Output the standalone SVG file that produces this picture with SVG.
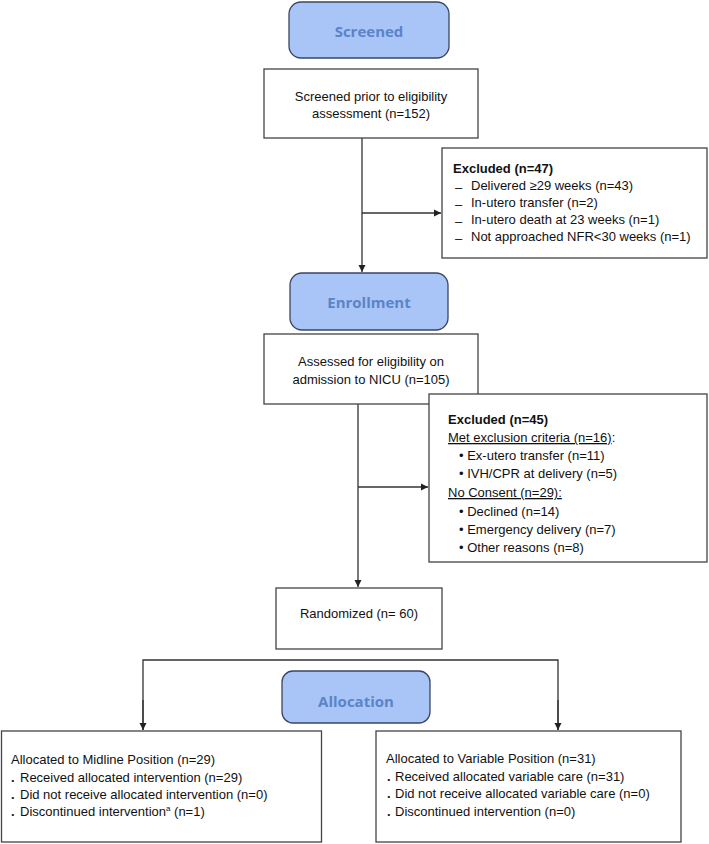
<svg xmlns="http://www.w3.org/2000/svg" width="709" height="844" viewBox="0 0 709 844">
<defs>
<marker id="arr" markerWidth="8" markerHeight="8" refX="7" refY="4" orient="auto" markerUnits="userSpaceOnUse">
<path d="M0,0.5 L7,4 L0,7.5 Z" fill="#222"/>
</marker>
<style>
.stage{fill:#a9c5f7;stroke:#3b4660;stroke-width:1.3}
.stxt{font-family:"Open Sans","DejaVu Sans",sans-serif;font-weight:700;font-size:15px;fill:#5a84c6;text-anchor:middle}
.box{fill:#fff;stroke:#444;stroke-width:1.3}
.t{font-family:"Liberation Sans",Arial,sans-serif;font-size:13px;fill:#111}
.c{text-anchor:middle}
.b{font-weight:700}
.u{text-decoration:underline}
.ln{fill:none;stroke:#333;stroke-width:1.3}
</style>
</defs>
<rect width="709" height="844" fill="#fff"/>

<g id="connectors">
<line class="ln" x1="362" y1="138" x2="362" y2="272" marker-end="url(#arr)"/>
<line class="ln" x1="362" y1="213" x2="441" y2="213" marker-end="url(#arr)"/>
<line class="ln" x1="358" y1="404" x2="358" y2="587" marker-end="url(#arr)"/>
<line class="ln" x1="358" y1="487" x2="428" y2="487" marker-end="url(#arr)"/>
<polyline class="ln" points="143,730 143,660 558,660 558,730"/>
<line class="ln" x1="143" y1="700" x2="143" y2="730" marker-end="url(#arr)"/>
<line class="ln" x1="558" y1="700" x2="558" y2="730" marker-end="url(#arr)"/>
</g>

<g id="screened">
<rect class="stage" x="289" y="2" width="160" height="56" rx="12"/>
<text class="stxt" x="369" y="37">Screened</text>
</g>

<g id="screened-prior">
<rect class="box" x="264" y="69" width="214" height="69"/>
<text class="t c" x="371" y="101">Screened prior to eligibility</text>
<text class="t c" x="371" y="118">assessment (n=152)</text>
</g>

<g id="excluded-47">
<rect class="box" x="442" y="148" width="265" height="110"/>
<text class="t b" x="453" y="173">Excluded (n=47)</text>
<text class="t" x="455" y="192">–</text><text class="t" x="471" y="190">Delivered ≥29 weeks (n=43)</text>
<text class="t" x="455" y="209">–</text><text class="t" x="471" y="207">In-utero transfer (n=2)</text>
<text class="t" x="455" y="226">–</text><text class="t" x="471" y="224">In-utero death at 23 weeks (n=1)</text>
<text class="t" x="455" y="243">–</text><text class="t" x="471" y="241">Not approached NFR&lt;30 weeks (n=1)</text>
</g>

<g id="enrollment">
<rect class="stage" x="290" y="273" width="158" height="57" rx="12"/>
<text class="stxt" x="369" y="308">Enrollment</text>
</g>

<g id="assessed">
<rect class="box" x="264" y="334" width="214" height="70"/>
<text class="t c" x="371" y="366">Assessed for eligibility on</text>
<text class="t c" x="371" y="384">admission to NICU (n=105)</text>
</g>

<g id="excluded-45">
<rect class="box" x="429" y="394" width="278" height="168"/>
<text class="t b" x="448" y="424">Excluded (n=45)</text>
<text class="t" x="448" y="442"><tspan class="u">Met exclusion criteria (n=16)</tspan>:</text>
<text class="t" x="459" y="460">• Ex-utero transfer (n=11)</text>
<text class="t" x="459" y="478">• IVH/CPR at delivery (n=5)</text>
<text class="t u" x="448" y="497">No Consent (n=29):</text>
<text class="t" x="459" y="516">• Declined (n=14)</text>
<text class="t" x="459" y="534">• Emergency delivery (n=7)</text>
<text class="t" x="459" y="552">• Other reasons (n=8)</text>
</g>

<g id="randomized">
<rect class="box" x="276" y="588" width="166" height="61"/>
<text class="t c" x="359" y="618">Randomized (n= 60)</text>
</g>

<g id="allocation">
<rect class="stage" x="282" y="671" width="148" height="52" rx="11"/>
<text class="stxt" x="356" y="707">Allocation</text>
</g>

<g id="midline">
<rect class="box" x="1.5" y="731" width="320" height="111"/>
<text class="t" x="11" y="764">Allocated to Midline Position (n=29)</text>
<text class="t b" x="11" y="782">.</text><text class="t" x="20" y="782">Received allocated intervention (n=29)</text>
<text class="t b" x="11" y="799">.</text><text class="t" x="20" y="799">Did not receive allocated intervention (n=0)</text>
<text class="t b" x="11" y="816">.</text><text class="t" x="20" y="816">Discontinued intervention<tspan font-size="8" dy="-5">a</tspan><tspan dy="5"> (n=1)</tspan></text>
</g>

<g id="variable">
<rect class="box" x="376" y="731" width="305" height="111"/>
<text class="t" x="386" y="763">Allocated to Variable Position (n=31)</text>
<text class="t b" x="387" y="781">.</text><text class="t" x="395" y="781">Received allocated variable care (n=31)</text>
<text class="t b" x="387" y="798">.</text><text class="t" x="395" y="798">Did not receive allocated variable care (n=0)</text>
<text class="t b" x="387" y="816">.</text><text class="t" x="395" y="816">Discontinued intervention (n=0)</text>
</g>
</svg>
